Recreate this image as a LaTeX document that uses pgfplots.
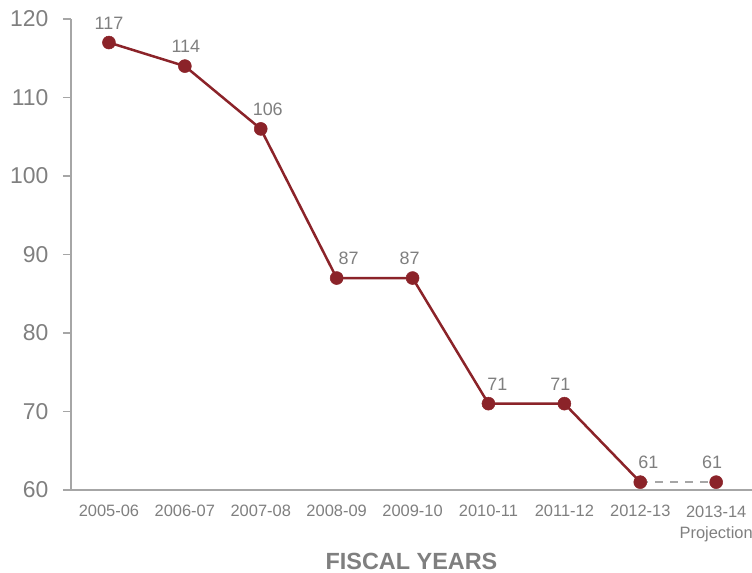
\documentclass[border=0pt]{standalone}
\usepackage{pgfplots}
\pgfplotsset{compat=1.18}
\usepackage{fontspec}
\setmainfont{Liberation Sans}
\definecolor{linered}{HTML}{8B2329}
\definecolor{txtgray}{HTML}{7F7F7F}
\definecolor{axgray}{HTML}{A6A6A6}
\begin{document}
\begin{tikzpicture}[x=1bp,y=1bp]
\begin{axis}[
  at={(0,0)}, anchor=south west,
  scale only axis,
  width=681bp, height=471bp,
  xmin=-0.5, xmax=8.472,
  ymin=60, ymax=120,
  ytick={60,70,...,120},
  xtick={0,...,8},
  xticklabels={2005-06,2006-07,2007-08,2008-09,2009-10,2010-11,2011-12,2012-13,{2013-14\\[5bp]Projection}},
  xticklabel style={font=\fontsize{16.5}{17}\selectfont, text=txtgray, align=center, anchor=north, yshift=-4bp},
  yticklabel style={font=\fontsize{23}{24}\selectfont, text=txtgray, xshift=-11bp},
  /pgf/number format/assume math mode=true,
  axis x line*=bottom,
  axis y line*=left,
  axis line style={axgray, line width=1.2bp},
  axis line style={-},
  major tick style={axgray, line width=1.2bp},
  ytick style={axgray},
  tick align=outside,
  major tick length=8bp,
  extra x ticks={-0.5,0.5,1.5,2.5,3.5,4.5,5.5,6.5,7.5},
  extra x tick labels={},
  extra x tick style={major tick length=8bp, tick style={axgray, line width=1.2bp}},
  xtick style={draw=none},
  xlabel={FISCAL YEARS},
  xlabel style={at={(axis description cs:0.5,0)}, anchor=center, yshift=-71bp, font=\fontsize{23.5}{26}\selectfont\bfseries, text=txtgray},
  clip=false,
]
\addplot[color=axgray, line width=1.8bp, dash pattern=on 8bp off 7bp, no marks] coordinates {(7,61) (8,61)};
\addplot[color=linered, line width=2.5bp, mark=*, mark size=6.5bp, mark options={fill=linered, draw=linered, line width=0.5bp}] coordinates {
(0,117) (1,114) (2,106) (3,87) (4,87) (5,71) (6,71) (7,61)};
\addplot[color=linered, only marks, mark=*, mark size=6.5bp, mark options={fill=linered, draw=linered, line width=0.5bp}] coordinates {(8,61)};
\addplot[only marks, mark=none,
  visualization depends on={\thisrow{dx} \as \dx},
  nodes near coords,
  every node near coord/.append style={font=\fontsize{18}{20}\selectfont, text=txtgray, yshift=10bp, xshift=\dx bp},
] table {
x y dx
0 117 0
1 114 1
2 106 7
3 87 12
4 87 -3
5 71 9
6 71 -4
7 61 8
8 61 -4
};
\end{axis}
\pgfresetboundingbox
\useasboundingbox (-71bp,-83bp) rectangle (681bp,490bp);
\end{tikzpicture}
\end{document}
